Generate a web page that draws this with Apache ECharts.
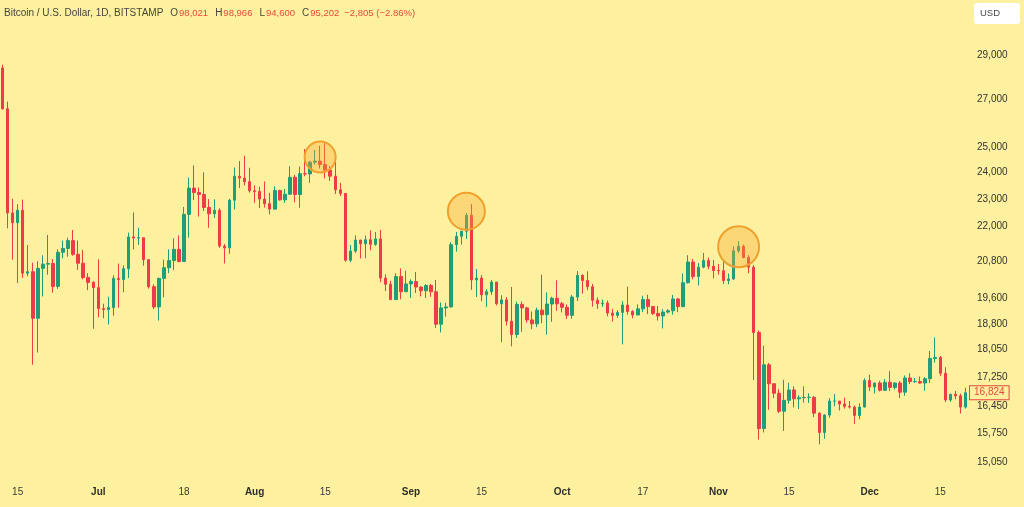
<!DOCTYPE html>
<html>
<head>
<meta charset="utf-8">
<script src="https://cdn.jsdelivr.net/npm/echarts@6/dist/echarts.min.js"></script>
<style>
html,body{margin:0;padding:0;background:#FDF19F;}
#c{width:1024px;height:507px;}
</style>
</head>
<body>
<div id="c"></div>
<script>
// ---- Data (BTC/USD daily) ----
const dates = [
 '06-12','06-13','06-14','06-15','06-16','06-17','06-18','06-19','06-20','06-21','06-22','06-23','06-24','06-25','06-26','06-27','06-28','06-29','06-30',
 '07-01','07-02','07-03','07-04','07-05','07-06','07-07','07-08','07-09','07-10','07-11','07-12','07-13','07-14','07-15','07-16','07-17','07-18','07-19','07-20','07-21','07-22','07-23','07-24','07-25','07-26','07-27','07-28','07-29','07-30','07-31',
 '08-01','08-02','08-03','08-04','08-05','08-06','08-07','08-08','08-09','08-10','08-11','08-12','08-13','08-14','08-15','08-16','08-17','08-18','08-19','08-20','08-21','08-22','08-23','08-24','08-25','08-26','08-27','08-28','08-29','08-30','08-31',
 '09-01','09-02','09-03','09-04','09-05','09-06','09-07','09-08','09-09','09-10','09-11','09-12','09-13','09-14','09-15','09-16','09-17','09-18','09-19','09-20','09-21','09-22','09-23','09-24','09-25','09-26','09-27','09-28','09-29','09-30',
 '10-01','10-02','10-03','10-04','10-05','10-06','10-07','10-08','10-09','10-10','10-11','10-12','10-13','10-14','10-15','10-16','10-17','10-18','10-19','10-20','10-21','10-22','10-23','10-24','10-25','10-26','10-27','10-28','10-29','10-30','10-31',
 '11-01','11-02','11-03','11-04','11-05','11-06','11-07','11-08','11-09','11-10','11-11','11-12','11-13','11-14','11-15','11-16','11-17','11-18','11-19','11-20','11-21','11-22','11-23','11-24','11-25','11-26','11-27','11-28','11-29','11-30',
 '12-01','12-02','12-03','12-04','12-05','12-06','12-07','12-08','12-09','12-10','12-11','12-12','12-13','12-14','12-15','12-16','12-17','12-18','12-19','12-20'
];
const open = [
 28400,26590,22480,22130,22580,20400,20450,18970,20560,20700,20720,19970,21100,21230,21500,21030,20730,20260,20100,
 19930,19270,19240,19300,20230,20190,20550,21630,21590,21600,20850,19960,19320,20230,20580,20820,21200,20790,22430,23400,23230,23160,22680,22450,22580,21310,21250,22950,23850,23780,23640,
 23300,23270,22990,22820,22620,23310,22960,23170,23810,23160,23950,23940,24400,24440,24305,24094,23854,23336,23199,20831,21140,21520,21390,21530,21370,21560,20240,20040,19550,20290,19800,
 20050,20130,19950,19830,20000,19800,18790,19290,19320,21360,21650,21830,22400,20180,20240,19700,19800,20110,19420,19540,18880,18480,19400,19290,18920,18800,19220,19080,19410,19590,
 19420,19310,19060,19630,20330,20160,19960,19530,19420,19440,19130,19060,19150,19380,19180,19070,19260,19550,19330,19120,19040,19160,19200,19570,19330,20090,20770,20290,20600,20820,20630,
 20490,20480,20160,20210,21150,21300,20920,20600,18540,15880,17600,17070,16810,16330,16620,16900,16660,16690,16700,16700,16280,15780,16230,16600,16600,16520,16460,16440,16220,16440,
 17160,16980,17090,16890,17110,16970,17090,16840,17230,17130,17130,17090,17210,17780,17810,17360,16630,16780,16740,16440
];
const high = [
 28550,26900,23000,22800,22970,21350,20750,20800,21000,21700,20870,21200,21500,21600,21870,21500,21180,20400,20140,
 20860,19420,19640,20330,20720,20660,21780,22500,21950,21600,20870,20040,20250,20850,21200,21580,21680,22700,23800,24270,23420,24000,22990,22980,22650,21380,23000,24190,24440,24650,24180,
 23500,23450,23650,23220,23460,23340,23370,24240,23900,24230,24920,24450,24880,25050,25211,24247,24446,23600,23200,21350,21680,21520,21680,21860,21800,21870,20360,20150,20400,20560,20480,
 20200,20440,19970,20040,20050,20180,19460,19450,21450,21800,21840,22480,22800,20540,20340,19880,20180,20110,19690,19630,19950,19480,19490,19320,19180,19300,20350,19780,19640,20170,
 19480,19400,19700,20470,20360,20460,20050,19620,19550,19520,19260,19220,19500,19960,19220,19400,19670,19700,19350,19350,19250,19250,19700,19600,20390,21000,20870,20740,21080,20920,20840,
 20700,20800,20390,21300,21480,21360,21000,20670,18600,18150,17650,17070,16920,17180,17100,17000,16760,17000,16810,16740,16300,16250,16680,16790,16600,16690,16600,16480,16540,17220,
 17320,17100,17150,17200,17420,17110,17140,17300,17360,17230,17270,17250,18000,18390,17850,17530,16800,16870,16800,16960
];
const low = [
 26560,21930,20850,20080,20250,20300,17600,17950,19650,20350,19770,19890,20900,20950,20980,20510,20200,19850,18650,
 19000,18970,18780,19050,19300,19780,20240,21200,21350,20650,19900,19250,18900,19620,20400,20500,20760,20780,21600,22950,22350,22550,21950,22300,21250,20720,21050,22600,23400,23500,23230,
 22850,22660,22680,22430,22590,22930,22850,23150,22870,22670,23850,23600,24300,24150,23773,23671,23180,23100,20780,20760,21070,20890,20900,21170,21320,20110,19820,19540,19550,19560,19800,
 19600,19760,19650,19600,19640,18680,18540,19020,19300,21120,21360,21560,19860,19630,19500,19320,19700,19370,18250,18750,18130,18380,18560,18830,18640,18700,18820,18480,18860,19200,
 19150,18950,18960,19500,19740,19850,19330,19260,19320,19030,18870,18980,18190,19080,18970,19070,19160,19100,19070,18900,18660,19120,19080,19160,19310,20060,20200,20000,20560,20530,20230,
 20350,20050,20040,20180,21080,20900,20400,17170,15600,15780,16370,16680,16280,15820,16530,16430,16390,16560,16550,16180,15480,15620,16160,16460,16350,16400,16400,16000,16120,16430,
 16870,16800,16860,16880,16870,16910,16680,16740,17060,17090,17070,16880,17090,17660,17280,16570,16580,16650,16270,16400
];
const close = [
 26590,22480,22130,22580,20400,20450,18970,20560,20700,20720,19970,21100,21230,21500,21030,20730,20260,20100,19930,
 19270,19240,19300,20230,20190,20550,21630,21590,21600,20850,19960,19320,20230,20580,20820,21200,20790,22430,23400,23230,23160,22680,22450,22580,21310,21250,22950,23850,23780,23640,23300,
 23270,22990,22820,22620,23310,22960,23170,23810,23160,23950,23940,24400,24440,24305,24094,23854,23336,23199,20831,21140,21520,21390,21530,21370,21560,20240,20040,19550,20290,19800,20050,
 20130,19950,19830,20000,19800,18790,19290,19320,21360,21650,21830,22400,20180,20240,19700,19800,20110,19420,19540,18880,18480,19400,19290,18920,18800,19220,19080,19410,19590,19420,
 19310,19060,19630,20330,20160,19960,19530,19420,19440,19130,19060,19150,19380,19180,19070,19260,19550,19330,19120,19040,19160,19200,19570,19330,20090,20770,20290,20600,20820,20630,20490,
 20480,20160,20210,21150,21300,20920,20600,18540,15880,17600,17070,16810,16330,16620,16900,16660,16690,16700,16700,16280,15780,16230,16600,16600,16520,16460,16440,16220,16440,17160,
 16980,17090,16890,17110,16970,17090,16840,17230,17130,17130,17090,17210,17780,17810,17360,16630,16780,16740,16440,16824
];
const xTickDates  = ['06-15','07-01','07-18','08-01','08-15','09-01','09-15','10-01','10-17','11-01','11-15','12-01','12-15'];
const xTickLabels = ['15','Jul','18','Aug','15','Sep','15','Oct','17','Nov','15','Dec','15'];
const yTicks = [15050,15750,16450,17250,18050,18800,19600,20800,22000,23000,24000,25000,27000,29000];
const highlightDates  = ['08-14','09-12','11-05'];
const highlightValues = [24600,22540,21290];
const highlightSizes  = [31,37,41];
const lastPrice = 16824;
const header = {title:'Bitcoin / U.S. Dollar, 1D, BITSTAMP', o:'98,021', h:'98,966', l:'94,600', c:'95,202', chg:'\u22122,805 (\u22122.86%)'};

// ---- Chart ----
const BG = '#FDF19F', UP = '#1F9E79', DOWN = '#EE3B48', RED_TXT = '#E8483E';
const ohlc = dates.map((d,i)=>[open[i], close[i], low[i], high[i]]);
const chart = echarts.init(document.getElementById('c'), null, {renderer:'canvas'});
chart.setOption({
  backgroundColor: BG,
  animation: false,
  textStyle: {fontFamily: 'Liberation Sans, sans-serif'},
  title: {
    left: 4, top: 4, padding: 0,
    text: `{t|${header.title}} {k|O}{v|${header.o}} {k|H}{v|${header.h}} {k|L}{v|${header.l}} {k|C}{v|${header.c}} {v|${header.chg}}`,
    textStyle: {
      fontWeight: 'normal',
      rich: {
        t: {color:'#45453f', fontSize:10, fontWeight:'normal', fontFamily:'Liberation Sans'},
        k: {color:'#45453f', fontSize:10, fontWeight:'normal', fontFamily:'Liberation Sans', padding:[0,1,0,2]},
        v: {color:RED_TXT, fontSize:9.5, fontWeight:'normal', fontFamily:'Liberation Sans'}
      }
    }
  },
  grid: {left: 0, right: 56, top: 30, bottom: 37},
  xAxis: {
    type: 'category', data: dates, boundaryGap: true,
    axisLine: {show:false}, axisTick: {show:false}, splitLine: {show:false},
    axisLabel: {
      interval: (idx, val) => xTickDates.indexOf(val) >= 0,
      formatter: (val) => {
        const k = xTickDates.indexOf(val);
        const t = xTickLabels[k];
        return /^\d+$/.test(t) ? '{d|' + t + '}' : '{m|' + t + '}';
      },
      margin: 17,
      rich: {
        d: {color:'#3a3a36', fontSize:10, fontFamily:'Liberation Sans'},
        m: {color:'#2e2e2a', fontSize:10, fontWeight:'bold', fontFamily:'Liberation Sans'}
      }
    }
  },
  yAxis: {
    type: 'log', logBase: 10, position: 'right',
    min: 14854, max: 30192,
    axisLine: {show:false}, axisTick: {show:false}, splitLine: {show:false},
    axisLabel: {
      customValues: yTicks,
      formatter: v => Number(v).toLocaleString('en-US'),
      color: '#33332f', fontSize: 10, margin: 9
    }
  },
  graphic: [
    {type:'rect', left: 974, top: 3, shape:{width:46, height:21, r:3}, style:{fill:'#FFFFFF'}},
    {type:'text', left: 980, top: 8, style:{text:'USD', fill:'#4a4a4a', fontSize:9.5, fontFamily:'Liberation Sans'}}
  ],
  series: [{
    type: 'candlestick',
    data: ohlc,
    barWidth: 3,
    itemStyle: {color: UP, color0: DOWN, borderColor: UP, borderColor0: DOWN, borderWidth: 1},
    markPoint: {
      symbol: 'circle',
      label: {show:false},
      itemStyle: {color:'rgba(246,168,50,0.36)', borderColor:'#F0A02C', borderWidth:2},
      data: highlightDates.map((d,i)=>({coord:[d, highlightValues[i]], symbolSize: highlightSizes[i]}))
    },
    markLine: {
      symbol: ['none','none'], silent: true,
      lineStyle: {color: 'rgba(0,0,0,0)', width: 0, type: 'solid'},
      label: {
        show: true, position: 'end', distance: 2,
        formatter: () => lastPrice.toLocaleString('en-US'),
        color: RED_TXT, fontSize: 10, backgroundColor: BG,
        borderColor: RED_TXT, borderWidth: 1, padding: [2, 4, 1, 4]
      },
      data: [{yAxis: lastPrice}]
    }
  }]
});
</script>
</body>
</html>
